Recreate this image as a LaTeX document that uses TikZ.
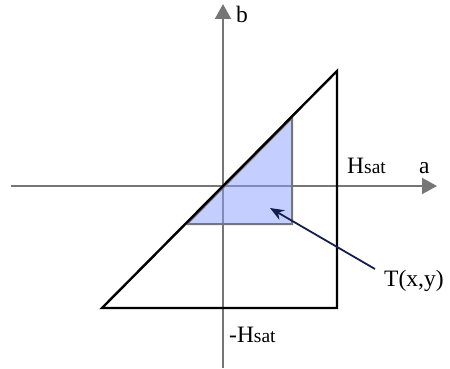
\documentclass[tikz,border=0pt]{standalone}
\usepackage{fontspec}
\setmainfont{Liberation Serif}
\usetikzlibrary{arrows.meta}
\definecolor{axisgray}{RGB}{118,118,118}
\definecolor{shade}{RGB}{140,160,255}
\definecolor{navy}{RGB}{20,30,80}
\newcommand{\sm}[1]{{\fontsize{19.5}{19.5}\selectfont #1}}
\begin{document}
\begin{tikzpicture}[x=1pt,y=-1pt,
  axisline/.style={draw=axisgray,line width=2pt,-{Triangle[length=15pt,width=16pt]}},
  lbl/.style={inner sep=0pt,anchor=base west,font=\fontsize{23.5}{23.5}\selectfont},
  bigtri/.style={draw=black,line width=2.4pt,line join=miter},
  smalltri/.style={draw=axisgray,line width=2pt,fill=shade,fill opacity=0.5},
  pointer/.style={draw=navy,line width=1.8pt,-{Stealth[length=14pt,width=11pt]}}]
\useasboundingbox (0,0) rectangle (450,369);
% axes
\coordinate (xl) at (11,186);
\coordinate (xr) at (437,186);
\coordinate (yb) at (223,368);
\coordinate (yt) at (223,4);
\draw[axisline] (xl) -- (xr);
\draw[axisline] (yb) -- (yt);
% shaded triangle
\coordinate (s1) at (187,224);
\coordinate (s2) at (292,224);
\coordinate (s3) at (292,118);
\draw[smalltri] (s1) -- (s2) -- (s3) -- cycle;
% big triangle
\coordinate (t1) at (102,308);
\coordinate (t2) at (337,308);
\coordinate (t3) at (337,71);
\draw[bigtri] (t1) -- (t2) -- (t3) -- cycle;
% labels
\node[lbl] (lb) at (236,23) {b};
\node[lbl] (la) at (419,173) {a};
\node[lbl] (lh) at (347,173) {H\sm{sat}};
\node[lbl] (lmh) at (229,342) {-H\sm{sat}};
\node[lbl] (lt) at (384,286) {T(x,y)};
\coordinate (ps) at (375,269);
\coordinate (pe) at (270,208);
\draw[pointer] (ps) -- (pe);
\end{tikzpicture}
\end{document}
